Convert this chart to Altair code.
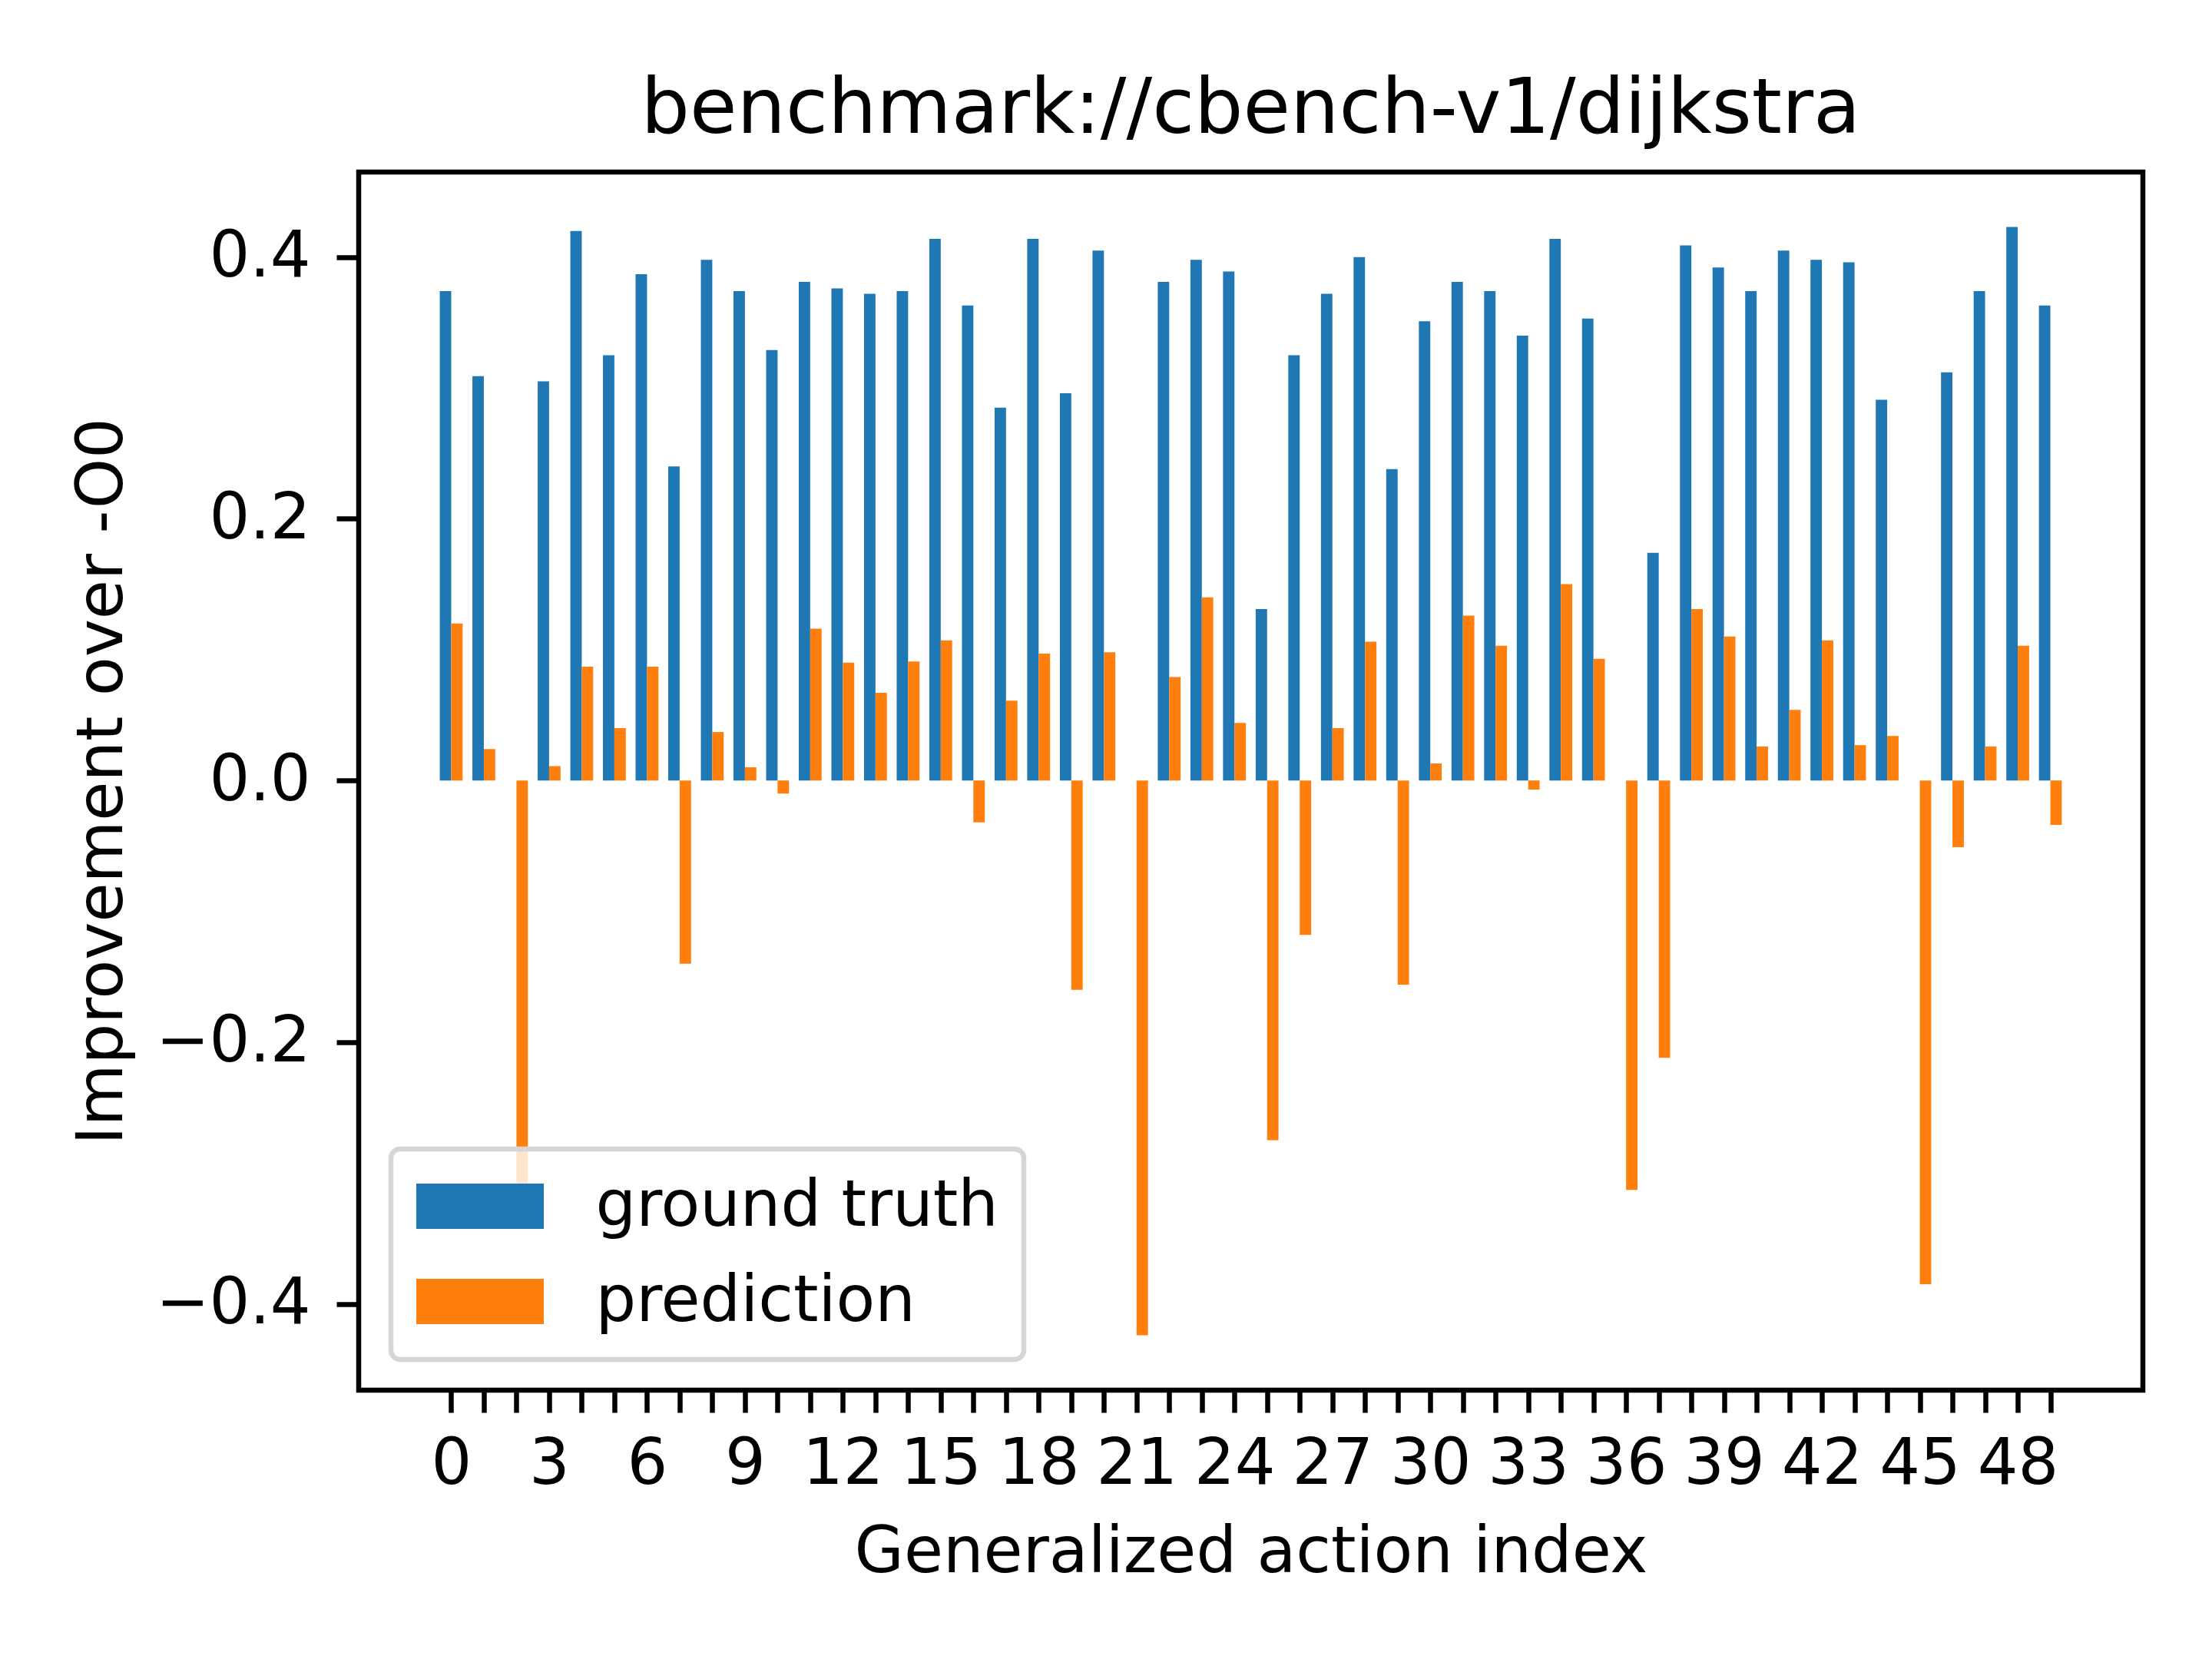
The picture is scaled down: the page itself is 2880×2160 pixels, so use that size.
import altair as alt
import pandas as pd

indices = list(range(50))
ground_truth = [0.374, 0.309, 0.0, 0.305, 0.420, 0.325, 0.387, 0.240, 0.398, 0.374,
                0.329, 0.381, 0.376, 0.372, 0.374, 0.414, 0.363, 0.285, 0.414, 0.296,
                0.405, 0.0, 0.381, 0.398, 0.389, 0.131, 0.325, 0.372, 0.400, 0.238,
                0.351, 0.381, 0.374, 0.340, 0.414, 0.353, 0.0, 0.174, 0.409, 0.392,
                0.374, 0.405, 0.398, 0.396, 0.291, 0.0, 0.312, 0.374, 0.423, 0.363]
prediction = [0.120, 0.024, -0.315, 0.011, 0.087, 0.040, 0.087, -0.140, 0.037, 0.010,
              -0.010, 0.116, 0.090, 0.067, 0.091, 0.107, -0.032, 0.061, 0.097, -0.160,
              0.098, -0.424, 0.079, 0.140, 0.044, -0.275, -0.118, 0.040, 0.106, -0.156,
              0.013, 0.126, 0.103, -0.007, 0.150, 0.093, -0.313, -0.212, 0.131, 0.110,
              0.026, 0.054, 0.107, 0.027, 0.034, -0.385, -0.051, 0.026, 0.103, -0.034]
series_names = ["ground truth", "prediction"]
series_colors = ["#1f77b4", "#ff7f0e"]
bar_width = 0.35

rows = []
for i, g, p in zip(indices, ground_truth, prediction):
    rows.append({"idx": i, "series": series_names[0], "value": g})
    rows.append({"idx": i, "series": series_names[1], "value": p})
df = pd.DataFrame(rows)

FONT = "DejaVu Sans"

chart = (
    alt.Chart(df)
    .transform_calculate(
        x0=f"datum.idx + (datum.series === 'ground truth' ? -{bar_width} : 0)",
    )
    .transform_calculate(x1=f"datum.x0 + {bar_width}", zero="0")
    .mark_bar(strokeWidth=0)
    .encode(
        x=alt.X(
            "x0:Q",
            scale=alt.Scale(domain=[-2.835, 51.835], nice=False, zero=False),
            axis=alt.Axis(
                values=indices,
                labelExpr="datum.value % 3 === 0 ? datum.label : ''",
                title="Generalized action index",
                titleX=1161.5,
                titleY=236,
                titleAlign="center",
                titleBaseline="alphabetic",
                labelOverlap=False,
                labelFlush=False,
                labelBaseline="top",
                labelPadding=26,
                labelLimit=1000,
                tickSize=29,
            ),
        ),
        x2="x1:Q",
        y=alt.Y(
            "value:Q",
            scale=alt.Scale(domain=[-0.466, 0.465], nice=False, zero=False),
            axis=alt.Axis(
                values=[-0.4, -0.2, 0.0, 0.2, 0.4],
                labelExpr="datum.value < -0.0001 ? '\u2212' + format(abs(datum.value), '.1f') : format(abs(datum.value), '.1f')",
                title="Improvement over -O0",
                titleAngle=270,
                titleX=-309,
                titleY=793,
                titleAlign="center",
                titleBaseline="alphabetic",
                labelPadding=34,
                labelLimit=1000,
                tickSize=29,
            ),
        ),
        y2=alt.Y2("zero:Q"),
        color=alt.Color(
            "series:N",
            scale=alt.Scale(domain=series_names, range=series_colors),
            legend=alt.Legend(
                title=None,
                orient="none",
                legendX=42,
                legendY=1272,
                symbolType="M-2,-0.71H2V0.71H-2Z",
                symbolSize=6889,
                symbolOffset=41.5,
                symbolStrokeWidth=0,
                symbolOpacity=1,
                labelFontSize=83,
                labelFont=FONT,
                labelColor="black",
                labelLimit=2000,
                labelOffset=109,
                padding=33,
                rowPadding=40,
                fillColor="rgba(255,255,255,0.8)",
                strokeColor="#d6d6d6",
                cornerRadius=12,
            ),
        ),
    )
    .properties(
        width=2323,
        height=1586,
        autosize=alt.AutoSizeParams(type="none"),
        padding={"left": 459, "top": 216, "right": 80, "bottom": 330},
        title=alt.TitleParams(
            "benchmark://cbench-v1/dijkstra",
            fontSize=100,
            font=FONT,
            fontWeight="normal",
            color="black",
            frame="group",
            anchor="middle",
            baseline="alphabetic",
            offset=-49,
        ),
    )
    .configure_view(stroke="black", strokeWidth=6.5)
    .configure_axis(
        domain=False,
        grid=False,
        labelFont=FONT,
        labelFontSize=83,
        labelColor="black",
        titleFont=FONT,
        titleFontSize=83,
        titleFontWeight="normal",
        titleColor="black",
        tickColor="black",
        tickWidth=6.5,
    )
    .configure_legend(strokeWidth=6.5)
)

chart.save("out.html", embed_options={"renderer": "svg", "actions": False})
